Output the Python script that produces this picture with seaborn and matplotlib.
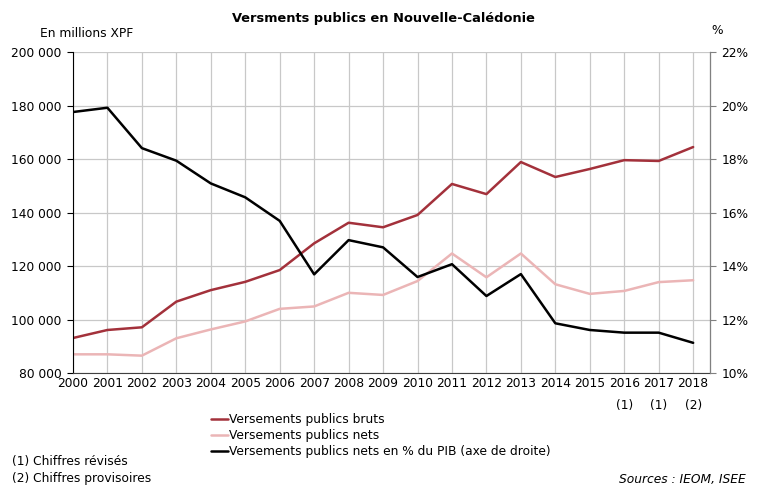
import pandas as pd
import matplotlib.pyplot as plt
import seaborn as sns
from matplotlib.lines import Line2D

years = [str(y) for y in range(2000, 2019)]
tick_labels = years[:16] + ["2016\n(1)", "2017\n(1)", "2018\n(2)"]
bruts = [93.1, 96.1, 97.1, 106.7, 111.0, 114.1, 118.5, 128.5, 136.2, 134.5,
         139.1, 150.7, 146.9, 158.9, 153.3, 156.3, 159.6, 159.3, 164.5]
nets = [87.0, 87.0, 86.5, 93.0, 96.3, 99.3, 104.0, 104.9, 110.0, 109.2,
        114.4, 124.7, 115.8, 124.7, 113.2, 109.6, 110.7, 114.0, 114.7]
pct_pib = [19.76, 19.92, 18.41, 17.94, 17.09, 16.57, 15.69, 13.69, 14.97, 14.70,
           13.59, 14.07, 12.88, 13.70, 11.86, 11.61, 11.51, 11.51, 11.13]

df = pd.DataFrame({
    "idx": range(len(years)),
    "bruts": [v * 1000 for v in bruts],
    "nets": [v * 1000 for v in nets],
    "pct": pct_pib,
})

sns.set_style("white")
plt.rcParams["font.family"] = ["DejaVu Sans"]
plt.rcParams["text.color"] = "black"
plt.rcParams["xtick.labelcolor"] = "black"
plt.rcParams["ytick.labelcolor"] = "black"

c_brut = "#a3313b"
c_net = "#ebb5b6"
c_pct = "#000000"
fs = 8.8

fig = plt.figure(figsize=(7.57, 4.87), dpi=100)
ax = fig.add_axes([0.0964, 0.234, 0.842, 0.659])
ax2 = ax.twinx()

sns.lineplot(data=df, x="idx", y="bruts", ax=ax, color=c_brut, lw=1.8)
sns.lineplot(data=df, x="idx", y="nets", ax=ax, color=c_net, lw=1.8)
sns.lineplot(data=df, x="idx", y="pct", ax=ax2, color=c_pct, lw=1.8)

ax.set_xlim(0, 18.5)
ax.set_ylim(80000, 200000)
ax2.set_ylim(10, 22)
ax.set_yticks(range(80000, 200001, 20000))
ax.set_yticklabels([f"{v // 1000} 000" for v in range(80000, 200001, 20000)], fontsize=fs)
ax2.set_yticks(range(10, 23, 2))
ax2.set_yticklabels([f"{v}%" for v in range(10, 23, 2)], fontsize=fs)
ax.set_xticks(range(len(years)))
ax.set_xticklabels(tick_labels, fontsize=fs, linespacing=1.9, va="top")

ax.grid(True, color="#c8c8c8", lw=0.9)
ax.set_axisbelow(True)
for a in (ax, ax2):
    a.set_xlabel("")
    a.set_ylabel("")
    a.spines["top"].set_visible(False)
ax.spines["left"].set_color("black")
ax.spines["bottom"].set_color("#404040")
ax2.spines["right"].set_color("#808080")
ax2.spines["left"].set_visible(False)
ax2.spines["bottom"].set_visible(False)
ax.tick_params(axis="y", length=4, direction="out", color="black", pad=4, left=True)
ax.tick_params(axis="x", length=0, pad=3)
ax2.tick_params(axis="y", length=4, direction="out", color="#808080", pad=4, right=True)

fig.text(0.506, 0.962, "Versments publics en Nouvelle-Calédonie", ha="center", va="center",
         fontsize=9.4, fontweight="bold")
fig.text(0.053, 0.932, "En millions XPF", ha="left", va="center", fontsize=fs)
fig.text(0.94, 0.938, "%", ha="left", va="center", fontsize=fs)

handles = [Line2D([], [], color=c_brut, lw=1.8),
           Line2D([], [], color=c_net, lw=1.8),
           Line2D([], [], color=c_pct, lw=1.8)]
labels = ["Versements publics bruts", "Versements publics nets",
          "Versements publics nets en % du PIB (axe de droite)"]
fig.legend(handles, labels, loc="upper left", bbox_to_anchor=(0.272, 0.162),
           frameon=False, fontsize=fs, handlelength=1.4, handletextpad=0.1,
           labelspacing=0.25, borderaxespad=0)

fig.text(0.016, 0.052, "(1) Chiffres révisés", ha="left", va="center", fontsize=fs)
fig.text(0.016, 0.018, "(2) Chiffres provisoires", ha="left", va="center", fontsize=fs)
fig.text(0.818, 0.016, "Sources : IEOM, ISEE", ha="left", va="center", fontsize=fs,
         style="italic")

fig.savefig("out.png", dpi=100)
